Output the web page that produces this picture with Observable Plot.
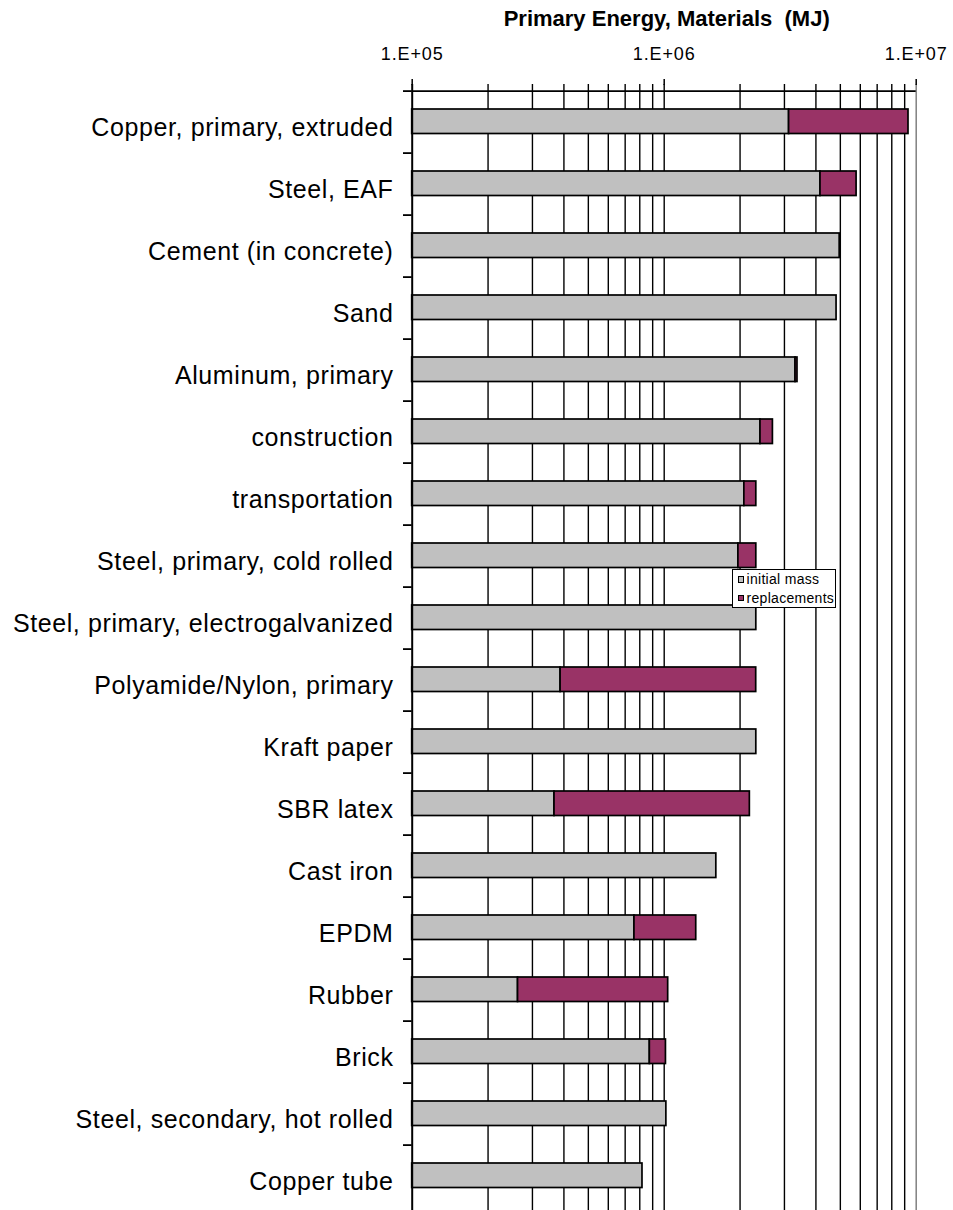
<!DOCTYPE html>
<html>
<head>
<meta charset="utf-8">
<script src="https://cdn.jsdelivr.net/npm/d3@7"></script>
<script src="https://cdn.jsdelivr.net/npm/@observablehq/plot@0.6"></script>
<style>
  body { margin: 0; background: #fff; }
  #wrap { position: relative; width: 953px; height: 1210px; overflow: hidden; font-family: 'Liberation Sans', Arial, sans-serif; }
  #title { position: absolute; top: 8px; left: 666.7px; transform: translateX(-50%); font-weight: bold; font-size: 22px; line-height: 22px; white-space: pre; color: #000; }
  #legend { position: absolute; left: 732px; top: 569px; width: 102.3px; height: 37px; border: 1.5px solid #000; background: #fff; overflow: hidden; font-size: 14px; letter-spacing: 0.3px; white-space: nowrap; color: #000; }
  .item { display: flex; align-items: center; height: 18.5px; padding-left: 4.5px; }
  .sw { width: 4.5px; height: 4.5px; border: 1.6px solid #000; margin-right: 2.5px; flex: none; }
  svg g[font-size="25"] text { letter-spacing: 0.6px; }
  svg g[font-size="18"] text { letter-spacing: 0.9px; }
</style>
</head>
<body>
<div id="wrap">
  <div id="chart"></div>
  <div id="title"></div>
  <div id="legend"></div>
</div>
<script>
// ---- data ----
const categories = [
  "Copper, primary, extruded",
  "Steel, EAF",
  "Cement (in concrete)",
  "Sand",
  "Aluminum, primary",
  "construction",
  "transportation",
  "Steel, primary, cold rolled",
  "Steel, primary, electrogalvanized",
  "Polyamide/Nylon, primary",
  "Kraft paper",
  "SBR latex",
  "Cast iron",
  "EPDM",
  "Rubber",
  "Brick",
  "Steel, secondary, hot rolled",
  "Copper tube"
];
const initialMass = [
  3.13e6, 4.17e6, 4.97e6, 4.83e6, 3.32e6, 2.41e6, 2.08e6, 1.97e6, 2.32e6,
  3.88e5, 2.32e6, 3.67e5, 1.61e6, 7.62e5, 2.63e5, 8.77e5, 1.02e6, 8.20e5
];
const replacements = [
  6.19e6, 1.63e6, 0, 0, 0.06e6, 0.29e6, 0.24e6, 0.35e6, 0,
  1.93e6, 0, 1.82e6, 0, 5.78e5, 7.74e5, 1.39e5, 0, 0
];
const seriesNames = ["initial mass", "replacements"];
const seriesColors = ["#c0c0c0", "#993366"];
const xDomain = [1e5, 1e7];
const xTicks = [1e5, 1e6, 1e7];
const xTickLabels = ["1.E+05", "1.E+06", "1.E+07"];
const gridValues = [2e5, 3e5, 4e5, 5e5, 6e5, 7e5, 8e5, 9e5, 1e6, 2e6, 3e6, 4e6, 5e6, 6e6, 7e6, 8e6, 9e6];
const titleText = "Primary Energy, Materials  (MJ)";

// ---- table for the library ----
const rows = [];
categories.forEach((c, i) => {
  rows.push({category: c, series: seriesNames[0], x1: xDomain[0], x2: initialMass[i]});
  if (replacements[i] > 0) {
    rows.push({category: c, series: seriesNames[1], x1: initialMass[i], x2: initialMass[i] + replacements[i]});
  }
});

// ---- layout ----
const W = 953, H = 1210;
const frameTop = 84, frameLeft = 411.7, frameRight = 915.7, bandBottom = 1214.4;
const step = (bandBottom - frameTop) / categories.length;
const tickLen = 8.7;

const chart = Plot.plot({
  width: W,
  height: H,
  marginTop: frameTop,
  marginLeft: frameLeft,
  marginRight: W - frameRight,
  marginBottom: 0,
  style: {fontFamily: "'Liberation Sans', Arial, sans-serif", background: "#fff", color: "#000"},
  x: {type: "log", domain: xDomain},
  y: {type: "band", domain: categories, range: [frameTop, bandBottom], padding: 0, axis: null},
  color: {domain: seriesNames, range: seriesColors},
  marks: [
    Plot.ruleX(gridValues, {stroke: "#000", strokeWidth: 1.4}),
    Plot.ruleX([xDomain[1]], {stroke: "#808080", strokeWidth: 1.5}),
    Plot.barX(rows, {
      x1: "x1", x2: "x2", y: "category", fill: "series",
      stroke: "#000", strokeWidth: 1.7, insetTop: 18, insetBottom: 19.5
    }),
    Plot.ruleX([xDomain[0]], {stroke: "#000", strokeWidth: 2}),
    Plot.ruleY(categories, {
      dy: -step / 2, dx: -tickLen, insetRight: (frameRight - frameLeft) - tickLen,
      stroke: "#000", strokeWidth: 1.8
    }),
    Plot.ruleY([categories[0]], {dy: -step / 2, stroke: "#000", strokeWidth: 1.8}),
    Plot.axisX({
      anchor: "top", ticks: xTicks,
      tickFormat: d => xTickLabels[xTicks.indexOf(d)],
      tickSize: 6, tickPadding: 19, fontSize: 18, label: null, strokeWidth: 1.5
    }),
    Plot.text(categories, {
      y: d => d, text: d => d, frameAnchor: "left", textAnchor: "end",
      dx: -18.7, dy: 5, fontSize: 25, fill: "#000"
    })
  ]
});
document.getElementById("chart").appendChild(chart);

document.getElementById("title").textContent = titleText;

const legend = d3.select("#legend");
seriesNames.forEach((name, i) => {
  const item = legend.append("div").attr("class", "item");
  item.append("span").attr("class", "sw").style("background", seriesColors[i]);
  item.append("span").text(name);
});
</script>
</body>
</html>
